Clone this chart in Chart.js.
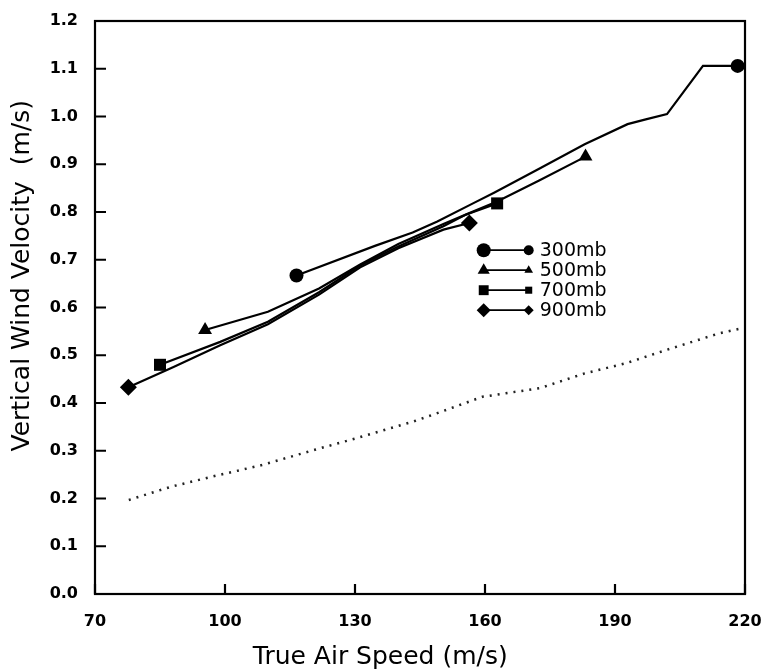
<!DOCTYPE html>
<html>
<head>
<meta charset="utf-8">
<script src="https://cdn.jsdelivr.net/npm/chart.js@4.4.1/dist/chart.umd.min.js"></script>
<style>
    html, body { margin: 0; padding: 0; background: #fff; }
    #wrap { width: 763px; height: 672px; position: relative; }
</style>
</head>
<body>
<div id="wrap"><canvas id="myChart"></canvas></div>
<script>
// values
const seriesNames = ['300mb', '500mb', '700mb', '900mb']
const pointStyles = ['circle', 'triangle', 'rect', 'rectRot']

const speed300 = [116.5, 134.6, 143.3, 149.0, 157.0, 162.2, 172.6, 183.0, 192.9, 197.1, 202.0, 210.3, 218.3]
const wind300 = [0.667, 0.729, 0.757, 0.780, 0.817, 0.841, 0.891, 0.942, 0.984, 0.994, 1.005, 1.106, 1.106]

const speed500 = [95.4, 109.9, 121.7, 131.2, 140.0, 150.4, 155.7, 162.8, 172.5, 183.2]
const wind500 = [0.553, 0.591, 0.640, 0.690, 0.733, 0.775, 0.795, 0.822, 0.866, 0.916]

const speed700 = [85.0, 98.9, 109.9, 121.7, 131.2, 140.0, 150.4, 155.7, 162.8]
const wind700 = [0.480, 0.528, 0.570, 0.632, 0.688, 0.728, 0.770, 0.795, 0.818]

const speed900 = [77.7, 88.0, 98.9, 109.9, 121.7, 131.2, 140.0, 150.4, 156.4]
const wind900 = [0.433, 0.475, 0.521, 0.565, 0.627, 0.684, 0.724, 0.763, 0.777]

// dotted reference line (no legend entry)
const speedRef = [77.8, 87.7, 97.1, 108.5, 120.7, 130.2, 143.4, 150.0, 159.4, 172.6, 183.0, 192.4, 201.8, 214.1, 220.0]
const windRef = [0.197, 0.225, 0.246, 0.270, 0.302, 0.326, 0.361, 0.382, 0.413, 0.431, 0.462, 0.483, 0.511, 0.546, 0.558]

const xTicks = [70, 100, 130, 160, 190, 220]
const yTicks = [0, 0.1, 0.2, 0.3, 0.4, 0.5, 0.6, 0.7, 0.8, 0.9, 1.0, 1.1, 1.2]

const toPoints = (xs, ys) => xs.map((x, i) => ({ x: x, y: ys[i] }))
const endsOnly = (n, r) => ctx => (ctx.dataIndex === 0 || ctx.dataIndex === n - 1) ? r : 0

const allSpeeds = [speed300, speed500, speed700, speed900]
const allWinds = [wind300, wind500, wind700, wind900]
const markerSize = [7, 8, 8.5, 8.5]

const datasets = seriesNames.map((name, i) => ({
    label: name,
    data: toPoints(allSpeeds[i], allWinds[i]),
    borderColor: '#000',
    backgroundColor: '#000',
    borderWidth: 2.2,
    pointStyle: pointStyles[i],
    pointRadius: endsOnly(allSpeeds[i].length, markerSize[i]),
    pointBorderWidth: 0,
    tension: 0
}))
datasets.push({
    label: 'ref',
    data: toPoints(speedRef, windRef),
    borderColor: '#222',
    borderWidth: 2.5,
    borderDash: [2, 6],
    pointRadius: 0,
    tension: 0
})

// inward ticks, box and the legend drawn inside the plot
const framePlugin = {
    id: 'frame',
    afterDraw(chart) {
        const ctx = chart.ctx
        const a = chart.chartArea
        const xs = chart.scales.x
        const ys = chart.scales.y
        ctx.save()
        ctx.strokeStyle = '#000'
        ctx.lineWidth = 2.2
        ctx.strokeRect(a.left, a.top, a.right - a.left, a.bottom - a.top)
        ctx.beginPath()
        yTicks.forEach(v => {
            const py = ys.getPixelForValue(v)
            ctx.moveTo(a.left, py)
            ctx.lineTo(a.left + 11, py)
        })
        xTicks.forEach(v => {
            const px = xs.getPixelForValue(v)
            ctx.moveTo(px, a.bottom)
            ctx.lineTo(px, a.bottom - 10)
        })
        ctx.stroke()

        // legend
        const lx = xs.getPixelForValue(159.7)
        const top = ys.getPixelForValue(0.720)
        ctx.font = '19px "DejaVu Sans"'
        ctx.textBaseline = 'middle'
        ctx.fillStyle = '#000'
        seriesNames.forEach((name, i) => {
            const y = top + i * 20
            ctx.beginPath()
            ctx.lineWidth = 1.8
            ctx.moveTo(lx, y)
            ctx.lineTo(lx + 45, y)
            ctx.stroke()
            Chart.helpers.drawPoint(ctx, { pointStyle: pointStyles[i], radius: 7, rotation: 0, borderWidth: 0 }, lx, y)
            Chart.helpers.drawPoint(ctx, { pointStyle: pointStyles[i], radius: 5, rotation: 0, borderWidth: 0 }, lx + 45, y)
            ctx.fillText(name, lx + 56, y + 1)
        })
        ctx.restore()
    }
}

const ctx = document.getElementById('myChart')
// eslint-disable-next-line no-unused-vars
const myChart = new Chart(ctx, {
    type: 'line',
    data: { datasets: datasets },
    options: {
        responsive: true,
        maintainAspectRatio: false,
        animation: false,
        layout: { padding: { top: 21, right: 18, left: 0, bottom: 0 } },
        plugins: {
            legend: { display: false },
            tooltip: { enabled: false }
        },
        scales: {
            x: {
                type: 'linear',
                min: 70,
                max: 220,
                afterFit: s => {
                    s.height = 78
                    s.paddingLeft = 0
                    s.paddingRight = 0
                },
                afterBuildTicks: s => { s.ticks = xTicks.map(v => ({ value: v })) },
                grid: { display: false, drawTicks: false },
                border: { display: false },
                ticks: {
                    color: '#000',
                    padding: 18,
                    font: { family: '"DejaVu Sans"', size: 16, weight: 'bold' }
                },
                title: {
                    display: true,
                    text: 'True Air Speed (m/s)          ',
                    color: '#000',
                    padding: { top: 0, bottom: 0 },
                    font: { family: '"DejaVu Sans"', size: 25 }
                }
            },
            y: {
                min: 0,
                max: 1.2,
                afterFit: s => {
                    s.width = 95
                    s.paddingTop = 0
                    s.paddingBottom = 0
                },
                afterBuildTicks: s => { s.ticks = yTicks.map(v => ({ value: v })) },
                grid: { display: false, drawTicks: false },
                border: { display: false },
                ticks: {
                    color: '#000',
                    padding: 17,
                    callback: v => v.toFixed(1),
                    font: { family: '"DejaVu Sans"', size: 16, weight: 'bold' }
                },
                title: {
                    display: true,
                    text: '        Vertical Wind Velocity  (m/s)',
                    color: '#000',
                    padding: { top: 7, bottom: 0 },
                    font: { family: '"DejaVu Sans"', size: 25 }
                }
            }
        }
    },
    plugins: [framePlugin]
})
</script>
</body>
</html>
